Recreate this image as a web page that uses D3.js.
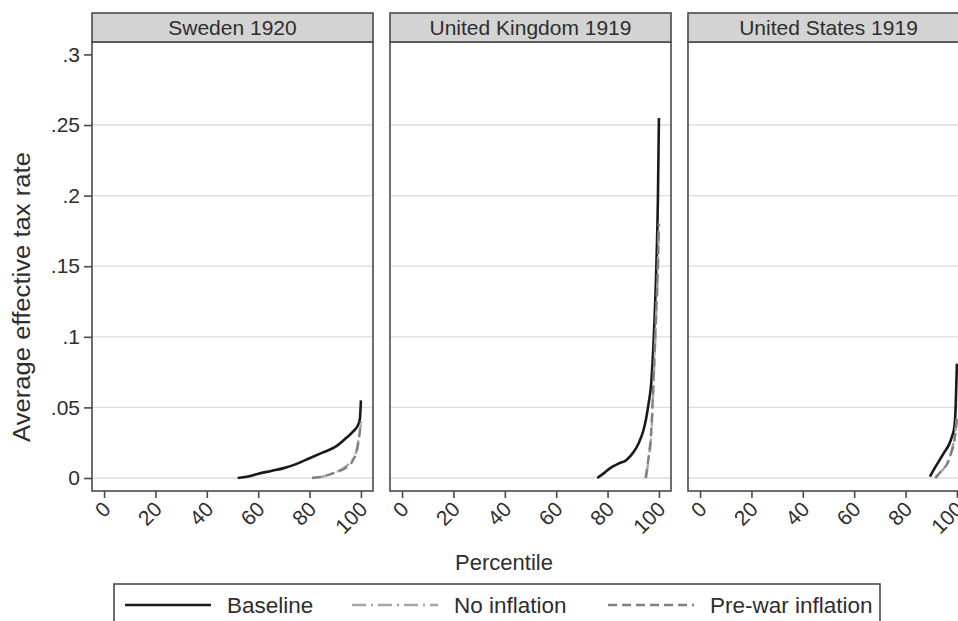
<!DOCTYPE html>
<meta charset="utf-8">
<script src="https://d3js.org/d3.v7.min.js"></script>
<style>
  body { margin: 0; background: #fff; }
  text { font-family: "Liberation Sans", Arial, sans-serif; fill: #2e2e2e; }
</style>
<div id="my_dataviz"></div>
<script>
  // panel titles
  const panels = ["Sweden 1920", "United Kingdom 1919", "United States 1919"];

  // [percentile, average effective tax rate]
  const swedenBaseline = [[52, 0], [56, 0.001], [60, 0.003], [65, 0.005], [70, 0.007], [75, 0.010], [80, 0.014],
    [85, 0.018], [90, 0.022], [94, 0.028], [97, 0.033], [99, 0.038], [99.6, 0.042], [100, 0.055]];
  const swedenNoInflation = [[81, 0], [85, 0.001], [90, 0.004], [94, 0.008], [97, 0.014], [98.5, 0.021], [99.3, 0.030], [100, 0.038]];
  const swedenPreWar = [[81, 0], [85, 0.001], [90, 0.004], [94, 0.007], [97, 0.013], [98.5, 0.020], [99.3, 0.029], [100, 0.040]];

  const ukBaseline = [[76, 0], [79, 0.004], [81, 0.007], [84, 0.010], [87.5, 0.013], [90, 0.018], [92.2, 0.025], [94, 0.034],
    [95, 0.042], [96, 0.053], [97, 0.067], [98, 0.100], [99, 0.150], [99.6, 0.197], [100, 0.255]];
  const ukNoInflation = [[95, 0], [96, 0.014], [97, 0.030], [98, 0.072], [99, 0.118], [99.6, 0.148], [100, 0.182]];
  const ukPreWar = [[94.8, 0], [96, 0.015], [97, 0.033], [98, 0.075], [99, 0.120], [99.6, 0.150], [100, 0.180]];

  const usBaseline = [[89.5, 0.001], [91, 0.006], [93, 0.012], [95, 0.018], [97, 0.024], [98, 0.029], [99, 0.036], [99.5, 0.050], [100, 0.081]];
  const usNoInflation = [[91.8, 0], [93, 0.003], [95, 0.007], [96.5, 0.012], [98, 0.020], [99, 0.028], [100, 0.042]];
  const usPreWar = [[91.5, 0], [93, 0.003], [95, 0.007], [96.5, 0.011], [98, 0.019], [99, 0.026], [100, 0.043]];

  const seriesNames = ["Baseline", "No inflation", "Pre-war inflation"];
  const xTicks = [0, 20, 40, 60, 80, 100];
  const yTicks = [0, 0.05, 0.1, 0.15, 0.2, 0.25, 0.3];
  const yTickLabels = ["0", ".05", ".1", ".15", ".2", ".25", ".3"];

  const panelData = [
    [swedenBaseline, swedenNoInflation, swedenPreWar],
    [ukBaseline, ukNoInflation, ukPreWar],
    [usBaseline, usNoInflation, usPreWar]
  ];

  // styles per series
  const colors = ["#1a1a1a", "#a6a6a6", "#808080"];
  const dashes = [null, "14,5,2,5", "9,5"];
  const widths = [2.6, 2.4, 2.4];

  const width = 958, height = 621;
  const panelLeft = [92, 390, 688], panelW = 281;
  const headTop = 13, plotTop = 42, plotBottom = 491;

  const svg = d3.select("#my_dataviz")
    .append("svg")
    .attr("width", width)
    .attr("height", height);

  const x = d3.scaleLinear().domain([-4.7, 104.7]).range([0, panelW]);
  const y = d3.scaleLinear().domain([-0.0092, 0.3088]).range([plotBottom, plotTop]);

  const line = d3.line()
    .curve(d3.curveMonotoneX)
    .x(d => x(d[0]))
    .y(d => y(d[1]));

  panels.forEach(function (name, i) {
    const g = svg.append("g").attr("transform", `translate(${panelLeft[i]},0)`);

    // plot area
    g.append("rect")
      .attr("x", 0).attr("y", plotTop)
      .attr("width", panelW).attr("height", plotBottom - plotTop)
      .attr("fill", "#fff");

    // grid lines (none at the top tick)
    g.selectAll(".grid")
      .data(yTicks.filter(d => d < 0.3))
      .join("line")
      .attr("x1", 0).attr("x2", panelW)
      .attr("y1", d => y(d)).attr("y2", d => y(d))
      .attr("stroke", "#dcdcdc")
      .attr("stroke-width", 1.3);

    // the three curves
    panelData[i].forEach(function (s, j) {
      g.append("path")
        .datum(s)
        .attr("fill", "none")
        .attr("stroke", colors[j])
        .attr("stroke-width", widths[j])
        .attr("stroke-dasharray", dashes[j])
        .attr("stroke-linejoin", "round")
        .attr("d", line);
    });

    // frame
    g.append("rect")
      .attr("x", 0).attr("y", plotTop)
      .attr("width", panelW).attr("height", plotBottom - plotTop)
      .attr("fill", "none")
      .attr("stroke", "#4a4a4a")
      .attr("stroke-width", 1.6);

    // header strip
    g.append("rect")
      .attr("x", 0).attr("y", headTop)
      .attr("width", panelW).attr("height", plotTop - headTop)
      .attr("fill", "#d3d3d3")
      .attr("stroke", "#4a4a4a")
      .attr("stroke-width", 1.6);
    g.append("text")
      .attr("x", panelW / 2).attr("y", plotTop - 7)
      .attr("text-anchor", "middle")
      .style("font-size", "21px")
      .text(name);

    // x axis
    const xa = g.append("g")
      .attr("transform", `translate(0,${plotBottom})`)
      .call(d3.axisBottom(x).tickValues(xTicks).tickSize(7).tickSizeOuter(0));
    xa.select(".domain").remove();
    xa.selectAll(".tick line").attr("stroke", "#4a4a4a").attr("stroke-width", 1.6);
    xa.selectAll(".tick text")
      .style("font-size", "21px")
      .attr("text-anchor", "end")
      .attr("fill", "#2e2e2e")
      .attr("y", 0)
      .attr("transform", "translate(-3,9) rotate(-45)")
      .attr("dy", "0.7em");
  });

  // y axis on first panel
  const ya = svg.append("g")
    .attr("transform", `translate(${panelLeft[0]},0)`)
    .call(d3.axisLeft(y).tickValues(yTicks).tickFormat((d, i) => yTickLabels[i]).tickSize(8).tickPadding(4));
  ya.select(".domain").remove();
  ya.selectAll(".tick line").attr("stroke", "#4a4a4a").attr("stroke-width", 1.6);
  ya.selectAll(".tick text").style("font-size", "21px").attr("fill", "#2e2e2e");

  // axis titles
  svg.append("text")
    .attr("transform", "translate(30,297) rotate(-90)")
    .attr("text-anchor", "middle")
    .style("font-size", "23px")
    .attr("textLength", 290)
    .attr("lengthAdjust", "spacingAndGlyphs")
    .text("Average effective tax rate");

  svg.append("text")
    .attr("x", 504).attr("y", 570)
    .attr("text-anchor", "middle")
    .style("font-size", "22px")
    .text("Percentile");

  // legend
  const legend = svg.append("g");
  legend.append("rect")
    .attr("x", 114).attr("y", 584)
    .attr("width", 766).attr("height", 50)
    .attr("fill", "#fff")
    .attr("stroke", "#4a4a4a")
    .attr("stroke-width", 1.6);

  const legX = [125, 352, 608];
  seriesNames.forEach(function (name, j) {
    legend.append("line")
      .attr("x1", legX[j]).attr("x2", legX[j] + 86)
      .attr("y1", 605).attr("y2", 605)
      .attr("stroke", colors[j])
      .attr("stroke-width", widths[j])
      .attr("stroke-dasharray", dashes[j]);
    legend.append("text")
      .attr("x", legX[j] + 102).attr("y", 613)
      .style("font-size", "22.5px")
      .text(name);
  });
</script>
